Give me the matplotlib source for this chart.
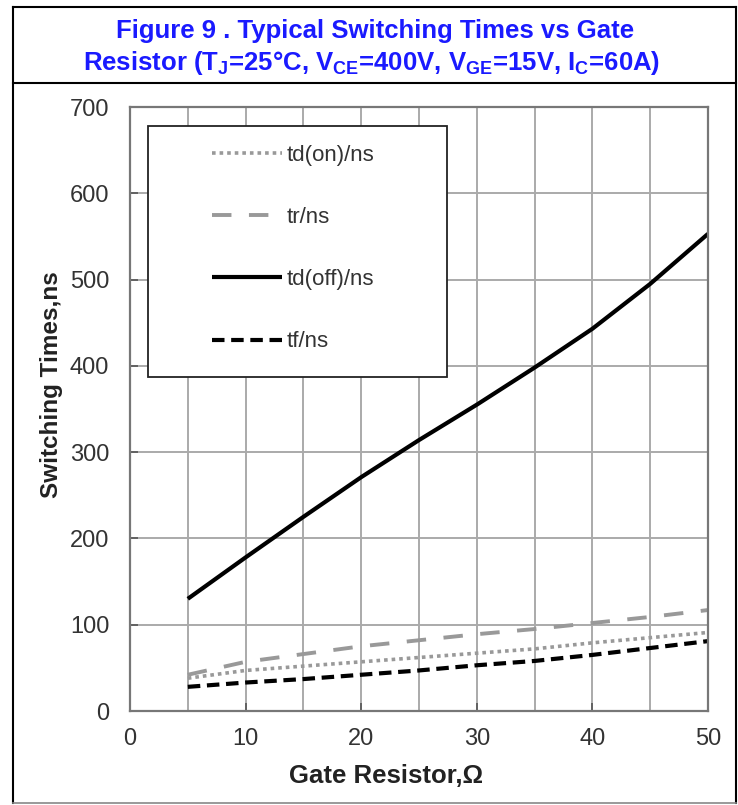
import matplotlib.pyplot as plt
import matplotlib.lines as mlines
from matplotlib.patches import Rectangle

plt.rcParams['font.family'] = ['Liberation Sans', 'DejaVu Sans']
plt.rcParams['mathtext.fontset'] = 'custom'
plt.rcParams['mathtext.rm'] = 'Liberation Sans:bold'
plt.rcParams['mathtext.bf'] = 'Liberation Sans:bold'

# data
gate_res = [5, 10, 15, 20, 25, 30, 35, 40, 45, 50]
td_on = [38, 47, 52, 57, 62, 67, 72, 79, 85, 91]
tr = [42, 57, 66, 75, 82, 89, 95, 102, 109, 117]
td_off = [130, 178, 225, 271, 314, 355, 398, 443, 495, 553]
tf = [28, 33, 37, 42, 47, 53, 58, 65, 73, 81]

W, H = 738, 805
fig = plt.figure(figsize=(W / 100, H / 100), dpi=100)

# outer frame + title separator
fl = dict(color="black", lw=1.5, transform=fig.transFigure)
fig.add_artist(mlines.Line2D([13 / W, 13 / W], [1 - 803 / H, 1 - 7 / H], **fl))
fig.add_artist(mlines.Line2D([736 / W, 736 / W], [1 - 803 / H, 1 - 7 / H], **fl))
fig.add_artist(mlines.Line2D([13 / W, 736 / W], [1 - 7 / H, 1 - 7 / H], **fl))
fig.add_artist(mlines.Line2D([13 / W, 736 / W], [1 - 83 / H, 1 - 83 / H], **fl))
fig.add_artist(mlines.Line2D([13 / W, 736 / W], [1 - 803 / H, 1 - 803 / H],
                             color="#888888", lw=1.2, transform=fig.transFigure))

blue = "#1a1aff"
fig.text(375 / W, 1 - 31 / H, "Figure 9 . Typical Switching Times vs Gate",
         ha="center", va="center", color=blue, fontsize=18.5, fontweight="bold")
fig.text(372 / W, 1 - 63 / H,
         r"Resistor (T$_\mathrm{J}$=25°C, V$_\mathrm{CE}$=400V, V$_\mathrm{GE}$=15V, I$_\mathrm{C}$=60A)",
         ha="center", va="center", color=blue, fontsize=18.5, fontweight="bold")

ax = fig.add_axes([130 / W, 1 - 711 / H, (708 - 130) / W, (711 - 107) / H])

ax.plot(gate_res, td_on, color="#999999", lw=2.6, linestyle=(0, (1, 1.1)),
        dash_capstyle="butt", label="td(on)/ns")
ax.plot(gate_res, tr, color="#999999", lw=2.8, linestyle=(0, (5, 4.5)),
        label="tr/ns")
ax.plot(gate_res, td_off, color="black", lw=3.0, solid_capstyle="butt",
        label="td(off)/ns")
ax.plot(gate_res, tf, color="black", lw=3.0, linestyle=(0, (3, 1.6)),
        label="tf/ns")

ax.set_xlim(0, 50)
ax.set_ylim(0, 700)
ax.set_xticks(range(0, 51, 10))
ax.set_xticks(range(5, 50, 10), minor=True)
ax.set_yticks(range(0, 701, 100))
ax.grid(True, which="both", axis="x", color="#aaaaaa", lw=1.4)
ax.grid(True, which="major", axis="y", color="#aaaaaa", lw=1.4)
ax.set_axisbelow(True)
for s in ax.spines.values():
    s.set_color("#777777")
    s.set_linewidth(1.6)
ax.tick_params(axis="both", which="major", direction="in", length=6, width=1.2,
               color="#555555", labelsize=17, labelcolor="#333333", pad=15)
ax.tick_params(axis="x", which="major", pad=12)
ax.tick_params(axis="both", which="minor", length=0)

ax.set_ylabel("Switching Times,ns", fontsize=17.5, fontweight="bold",
              color="#222222")
ax.yaxis.set_label_coords(-0.116, 0.541)
ax.set_xlabel("Gate Resistor,Ω", fontsize=18.5, fontweight="bold",
              color="#222222")
ax.xaxis.set_label_coords(0.443, -0.087)

# legend box
ax.add_patch(Rectangle((0.031, 0.553), 0.517, 0.4155, transform=ax.transAxes,
                       facecolor="white", edgecolor="#222222", lw=1.3, zorder=4))
leg = ax.legend(loc="upper left", bbox_to_anchor=(0.142, 0.937), frameon=False,
                fontsize=16, handlelength=3.15, handletextpad=0.2,
                labelspacing=1.85, borderpad=0, borderaxespad=0)
leg.set_zorder(5)
for t in leg.get_texts():
    t.set_color("#333333")

fig.savefig("out.png", dpi=100)
